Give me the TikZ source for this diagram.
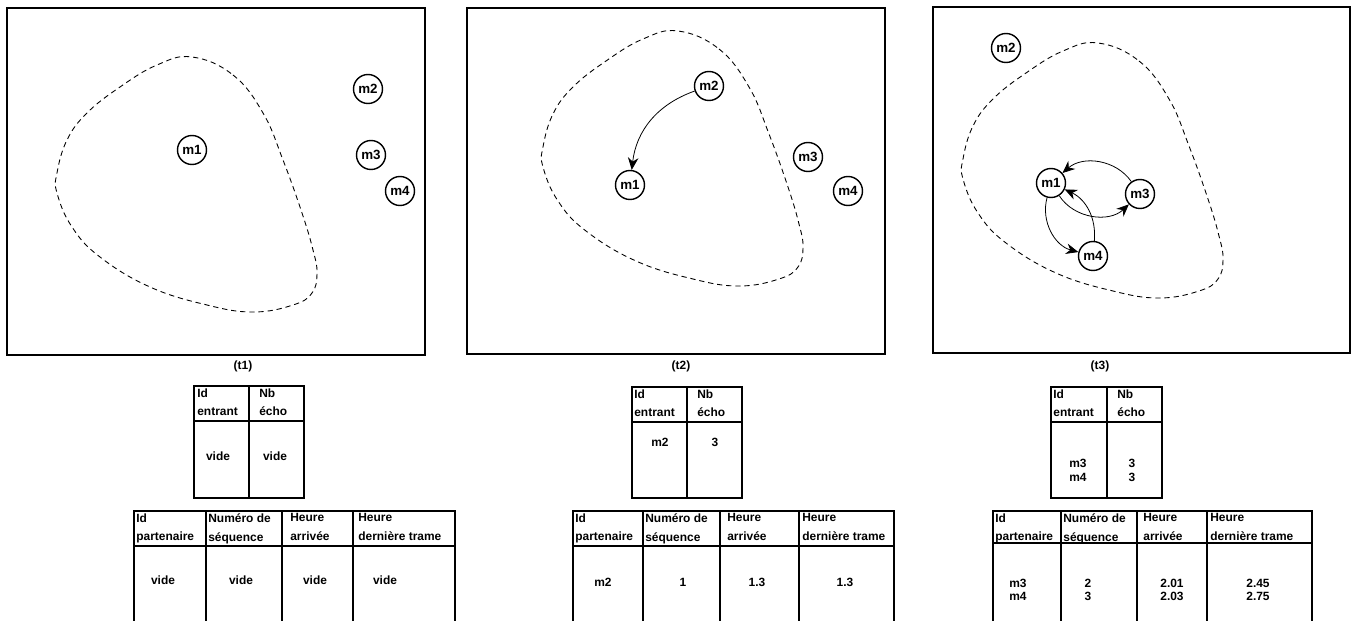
\documentclass[tikz,border=0pt]{standalone}
\usepackage{fontspec}
\setmainfont{Liberation Sans}
\usetikzlibrary{arrows.meta}

\begin{document}
\begin{tikzpicture}[x=0.02cm, y=-0.02cm, >={Stealth[length=7pt,width=6pt]},
    mobile/.style={circle, draw, line width=0.8pt, minimum size=0.58cm, inner sep=0pt, font=\fontsize{7.6}{8}\selectfont\bfseries},
    cadre/.style={line width=1.4pt},
    zone/.style={dash pattern=on 3pt off 2.2pt, line width=0.5pt},
    grille/.style={line width=0.8pt},
    lien/.style={->, line width=0.45pt},
    entete/.style={anchor=north west, align=left, inner sep=0pt, font=\fontsize{6.8}{10.8}\selectfont\bfseries},
    valeur/.style={inner sep=0pt, font=\fontsize{6.8}{8}\selectfont\bfseries}]
    \useasboundingbox (0,0) rectangle (1357,621);

    % cadres et instants
    \draw[cadre] (7,8) rectangle (425,355);
    \draw[cadre] (467,8) rectangle (885,354);
    \draw[cadre] (933,7) rectangle (1350,353);
    \node[valeur] (t1) at (243,366) {(t1)};
    \node[valeur] (t2) at (681,366) {(t2)};
    \node[valeur] (t3) at (1100,366) {(t3)};

    % zone de couverture
    \foreach \dx/\dy in {0/0, 486/-26, 906/-14}
        \draw[zone, shift={(\dx,\dy)}] plot[smooth cycle, tension=0.7] coordinates {
            (192,57) (233,75) (263,113) (283,160) (302,213) (313,250) (317,273)
            (312,293) (293,305) (253,312) (207,305) (150,287) (100,257) (72,227)
            (57,193) (57,173) (67,140) (87,113) (120,87) (157,65)};

    % instant t1
    \node[mobile] (m1a) at (192,150) {m1};
    \node[mobile] (m2a) at (368,89) {m2};
    \node[mobile] (m3a) at (371,155) {m3};
    \node[mobile] (m4a) at (400,191) {m4};

    % instant t2
    \node[mobile] (m1b) at (630,185) {m1};
    \node[mobile] (m2b) at (709,86) {m2};
    \node[mobile] (m3b) at (808,157) {m3};
    \node[mobile] (m4b) at (848,191) {m4};
    \draw[lien] (m2b) to[bend right=32] (m1b);

    % instant t3
    \node[mobile] (m1c) at (1051,183) {m1};
    \node[mobile] (m2c) at (1006,48) {m2};
    \node[mobile] (m3c) at (1140,194) {m3};
    \node[mobile] (m4c) at (1093,256) {m4};
    \draw[lien] (m3c) to[bend right=48] (m1c);
    \draw[lien] (m1c) to[bend right=50] (m3c);
    \draw[lien] (m1c) to[bend right=45] (m4c);
    \draw[lien] (m4c) to[bend right=35] (m1c);

    % tables des entrants
    \draw[grille] (194,386) rectangle (304,498) (194,421) -- (304,421) (249,386) -- (249,498);
    \node[entete] (ea1) at (197,388) {Id\\entrant};
    \node[entete] (eb1) at (259,388) {Nb\\écho};
    \node[valeur] (va1) at (218,456) {vide};
    \node[valeur] (vb1) at (275,456) {vide};

    \draw[grille] (632,387) rectangle (742,498) (632,422) -- (742,422) (687,387) -- (687,498);
    \node[entete] (ea2) at (634,389) {Id\\entrant};
    \node[entete] (eb2) at (697,389) {Nb\\écho};
    \node[valeur] (va2) at (660,442) {m2};
    \node[valeur] (vb2) at (715,442) {3};

    \draw[grille] (1051,387) rectangle (1162,498) (1051,422) -- (1162,422) (1107,387) -- (1107,498);
    \node[entete] (ea3) at (1053,389) {Id\\entrant};
    \node[entete] (eb3) at (1117,389) {Nb\\écho};
    \node[valeur] (va3) at (1078,463) {m3};
    \node[valeur] (vb3) at (1132,463) {3};
    \node[valeur] (vc3) at (1078,477) {m4};
    \node[valeur] (vd3) at (1132,477) {3};

    % tables des partenaires
    \draw[grille] (134,621) -- (134,511) -- (455,511) -- (455,621) (134,546) -- (455,546);
    \foreach \x in {206,282,353} \draw[grille] (\x,511) -- (\x,621);
    \node[entete] (pa1) at (136,513) {Id\\partenaire};
    \node[entete] (pb1) at (208,513) {Numéro de\\séquence};
    \node[entete] (pc1) at (290,513) {Heure\\arrivée};
    \node[entete] (pd1) at (358,513) {Heure\\dernière trame};
    \node[valeur] (qa1) at (163,580) {vide};
    \node[valeur] (qb1) at (241,580) {vide};
    \node[valeur] (qc1) at (315,580) {vide};
    \node[valeur] (qd1) at (385,580) {vide};

    \draw[grille] (573,621) -- (573,511) -- (894,511) -- (894,621) (573,546) -- (894,546);
    \foreach \x in {643,720,799} \draw[grille] (\x,511) -- (\x,621);
    \node[entete] (pa2) at (575,513) {Id\\partenaire};
    \node[entete] (pb2) at (645,513) {Numéro de\\séquence};
    \node[entete] (pc2) at (727,513) {Heure\\arrivée};
    \node[entete] (pd2) at (802,513) {Heure\\dernière trame};
    \node[valeur] (qa2) at (603,582) {m2};
    \node[valeur] (qb2) at (683,582) {1};
    \node[valeur] (qc2) at (757,582) {1.3};
    \node[valeur] (qd2) at (845,582) {1.3};

    \draw[grille] (993,621) -- (993,511) -- (1312,511) -- (1312,621) (993,543) -- (1312,543);
    \foreach \x in {1061,1137,1207} \draw[grille] (\x,511) -- (\x,621);
    \node[entete] (pa3) at (995,513) {Id\\partenaire};
    \node[entete] (pb3) at (1063,513) {Numéro de\\séquence};
    \node[entete] (pc3) at (1143,513) {Heure\\arrivée};
    \node[entete] (pd3) at (1210,513) {Heure\\dernière trame};
    \node[valeur] (qa3) at (1018,583) {m3};
    \node[valeur] (qb3) at (1088,583) {2};
    \node[valeur] (qc3) at (1172,583) {2.01};
    \node[valeur] (qd3) at (1258,583) {2.45};
    \node[valeur] (qe3) at (1018,596) {m4};
    \node[valeur] (qf3) at (1088,596) {3};
    \node[valeur] (qg3) at (1172,596) {2.03};
    \node[valeur] (qh3) at (1258,596) {2.75};
\end{tikzpicture}
\end{document}
